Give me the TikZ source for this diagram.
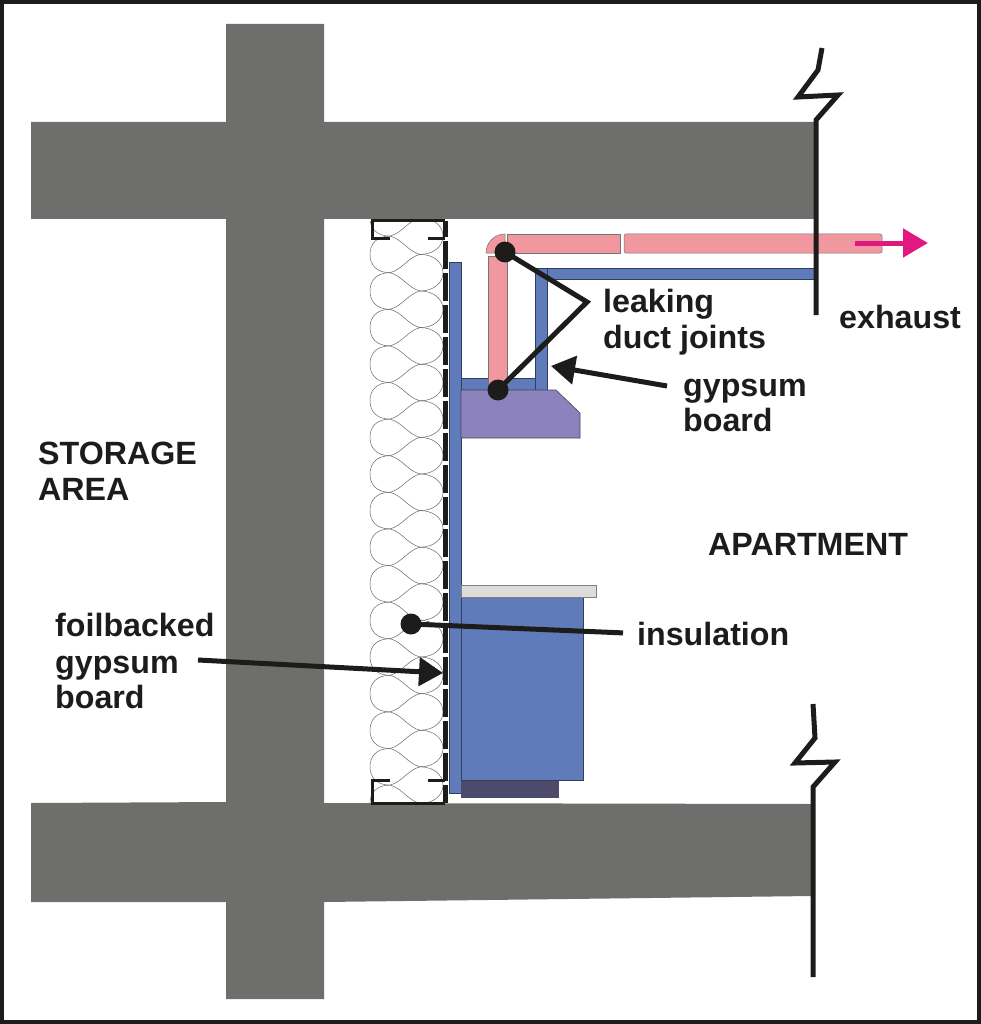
\documentclass[tikz,border=0pt]{standalone}
\usepackage{fontspec}
\setmainfont{Liberation Sans}
\usetikzlibrary{arrows.meta}
\definecolor{concrete}{HTML}{6E6E6C}
\definecolor{ductpink}{HTML}{F0979F}
\definecolor{woodblue}{HTML}{5F7BB9}
\definecolor{hoodpurple}{HTML}{8C82BC}
\definecolor{countergrey}{HTML}{DCDDD8}
\definecolor{basedark}{HTML}{4D4A6C}
\definecolor{inkblack}{HTML}{1E1C1B}
\definecolor{exhaustred}{HTML}{E0187F}
\tikzset{
  lbl/.style={anchor=base west,inner sep=0pt,text=inkblack,font=\fontsize{32.2}{32.2}\selectfont\bfseries},
  dotmark/.style={circle,fill=inkblack,inner sep=0pt,minimum size=21pt},
  leader/.style={draw=inkblack,line width=5pt},
  pointer/.style={leader,-{Triangle[length=24pt,width=28pt]}},
  breakline/.style={draw=inkblack,line width=5pt,miter limit=10},
  duct/.style={fill=ductpink,draw=black!55,line width=.5pt},
  wood/.style={fill=woodblue,draw=black!50!woodblue,line width=.6pt},
  wool/.style={draw=black!60,line width=.5pt},
  stud/.style={draw=inkblack,line width=3pt}
}
\begin{document}
\begin{tikzpicture}[x=1pt,y=-1pt]
\useasboundingbox (0,0) rectangle (981,1024);
\draw[line width=4pt,draw=inkblack] (2,2) rectangle (979,1022);
% floor slabs and wall
\fill[concrete] (226,24) -- (324,24) -- (324,122) -- (815,122) -- (815,219) -- (324,219)
  -- (324,803) -- (812,804) -- (812,896) -- (324,902) -- (324,999) -- (226,999) -- (226,902)
  -- (31,902) -- (31,803) -- (226,802) -- (226,219) -- (31,219) -- (31,122) -- (226,122) -- cycle;
% insulation
\begin{scope}
\clip (368,222) rectangle (445,803);
\foreach \r in {-2,...,15}{
  \pgfmathsetmacro{\ya}{272.7+36.6*\r}
  \pgfmathsetmacro{\yb}{\ya+18.3}
  \pgfmathsetmacro{\yc}{\ya+36.6}
  \draw[wool] (390,\ya) .. controls (376,\ya) and (370,\yb-10) .. (370,\yb)
     .. controls (370,\yb+10) and (376,\yc) .. (390,\yc);
  \draw[wool] (390,\ya) .. controls (402,\ya+3) and (408,\yb-3) .. (420,\yb)
     .. controls (408,\yb+3) and (402,\yc-3) .. (390,\yc);
  \draw[wool] (420,\yb) .. controls (434,\yb) and (443,\yc-10) .. (443,\yc)
     .. controls (443,\yc+10) and (434,\yc+18.3) .. (420,\yc+18.3);
}
\end{scope}
\draw[stud] (390,238) -- (372,238) -- (372,221) -- (445,221);
\draw[stud] (428,238) -- (445,238);
\draw[stud] (390,780) -- (372,780) -- (372,803) -- (445,803);
\draw[stud] (428,780) -- (445,780);
\draw[inkblack,line width=5pt,dash pattern=on 28pt off 4pt,dash phase=12pt] (445,221) -- (445,803);
% kitchen
\draw[wood] (449,262) rectangle (461,793);
\draw[wood] (535,268) rectangle (817,279);
\draw[wood] (535,268) rectangle (547,390);
\draw[wood] (461,378) rectangle (535,390);
\fill[basedark] (461,780) rectangle (559,798);
\draw[wood] (461,597) rectangle (583,780);
\draw[fill=countergrey,draw=black!50,line width=.5pt] (461,585) rectangle (596,597);
\draw[fill=hoodpurple,draw=black!50!hoodpurple,line width=.6pt] (461,390) -- (556,390) -- (580,413) -- (580,438) -- (461,438) -- cycle;
% exhaust duct
\draw[duct] (488,256) rectangle (507,390);
\draw[duct] (486,253) .. controls (486,243) and (494,234) .. (505,234) -- (505,253) -- cycle;
\draw[duct] (507,234) rectangle (620,253);
\draw[duct,rounded corners=2pt] (624,234) rectangle (882,253);
% break lines
\draw[breakline] (822,48) -- (818,70) -- (798,97) -- (838,95) -- (816,120) -- (816,315);
\draw[breakline] (813,704) -- (815,738) -- (795,763) -- (835,762) -- (813,787) -- (813,977);
\coordinate (exhaustA) at (855,243);
\coordinate (exhaustB) at (928,243);
\draw[draw=exhaustred,line width=5pt,-{Triangle[length=25pt,width=28pt]}] (exhaustA) -- (exhaustB);
% labels
\node[lbl] (leaking) at (603,312) {leaking};
\node[lbl] (joints) at (603,348) {duct joints};
\node[lbl] (exhaust) at (839,328) {exhaust};
\node[lbl] (gypsumA) at (683,396) {gypsum};
\node[lbl] (boardA) at (683,431) {board};
\node[lbl] (storage) at (38,464) {STORAGE};
\node[lbl] (area) at (38,500) {AREA};
\node[lbl] (apartment) at (708,555) {APARTMENT};
\node[lbl] (foil) at (55,636) {foilbacked};
\node[lbl] (gypsumB) at (55,673) {gypsum};
\node[lbl] (boardB) at (55,708) {board};
\node[lbl] (insulation) at (637,645) {insulation};
% leaders
\node[dotmark] (jointA) at (505,252) {};
\node[dotmark] (jointB) at (498,390) {};
\node[dotmark] (insulDot) at (411,624) {};
\coordinate (apex) at (587,302);
\coordinate (gypsumTail) at (667,386);
\coordinate (gypsumTip) at (551,366);
\coordinate (foilTail) at (198,660);
\coordinate (foilTip) at (443,673);
\draw[leader,miter limit=10] (jointA.center) -- (apex) -- (jointB.center);
\draw[leader,shorten >=14pt] (insulDot.center) -- (insulation.west);
\draw[pointer] (gypsumTail) -- (gypsumTip);
\draw[pointer] (foilTail) -- (foilTip);
\end{tikzpicture}
\end{document}
